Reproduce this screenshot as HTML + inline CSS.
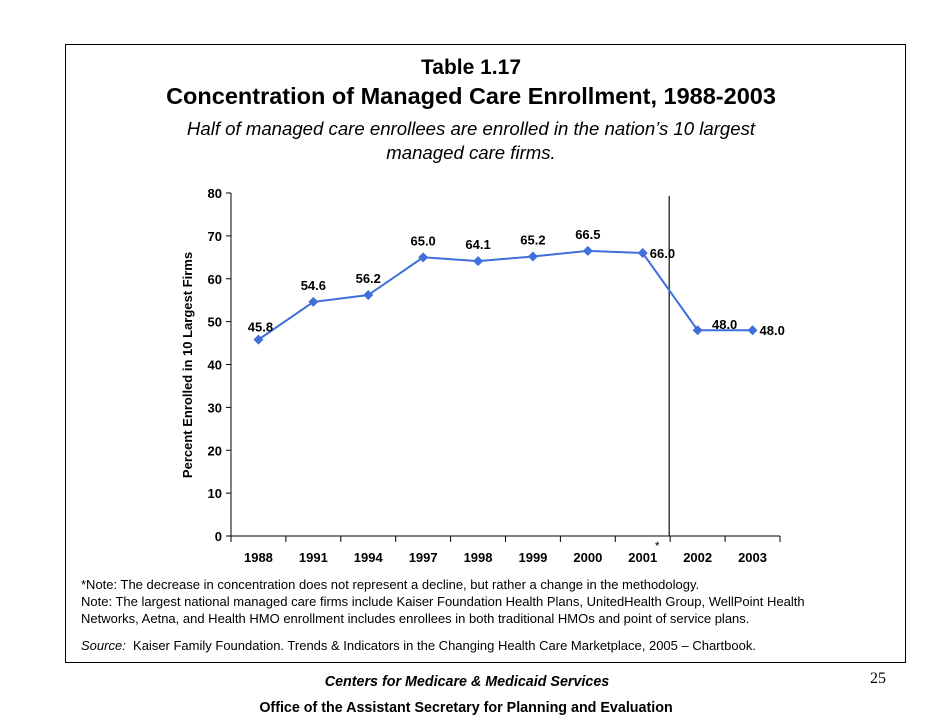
<!DOCTYPE html>
<html><head><meta charset="utf-8"><style>
body{margin:0;background:#fff;font-family:"Liberation Sans",sans-serif;}
.p{position:absolute;white-space:nowrap;}
</style></head><body>
<div style="position:relative;width:942px;height:728px;overflow:hidden">
<div style="position:absolute;left:65px;top:44px;width:839px;height:617px;border:1px solid #000"></div>
<div class="p" style="left:0;width:942px;text-align:center;top:56px;font-size:21px;font-weight:bold">Table 1.17</div>
<div class="p" style="left:0;width:942px;text-align:center;top:83px;font-size:23.5px;font-weight:bold">Concentration of Managed Care Enrollment, 1988-2003</div>
<div class="p" style="left:0;width:942px;text-align:center;top:117px;font-size:18.6px;font-style:italic;line-height:24px">Half of managed care enrollees are enrolled in the nation’s 10 largest<br>managed care firms.</div>
<svg id="chart" width="942" height="728" style="position:absolute;left:0;top:0" font-family="Liberation Sans, sans-serif"></svg>
<div class="p" style="left:81px;top:576px;font-size:13px;line-height:17px">*Note: The decrease in concentration does not represent a decline, but rather a change in the methodology.<br>Note: The largest national managed care firms include Kaiser Foundation Health Plans, UnitedHealth Group, WellPoint Health<br>Networks, Aetna, and Health HMO enrollment includes enrollees in both traditional HMOs and point of service plans.</div>
<div class="p" style="left:81px;top:638px;font-size:13px"><i>Source:</i>&nbsp; Kaiser Family Foundation. Trends &amp; Indicators in the Changing Health Care Marketplace, 2005 – Chartbook.</div>
<div class="p" style="left:0;width:934px;text-align:center;top:674px;font-size:14.3px;font-weight:bold;font-style:italic">Centers for Medicare &amp; Medicaid Services</div>
<div class="p" style="left:870px;top:670px;font-size:16px;font-family:'Liberation Serif',serif">25</div>
<div class="p" style="left:0;width:932px;text-align:center;top:700px;font-size:14.3px;font-weight:bold">Office of the Assistant Secretary for Planning and Evaluation</div>
</div>
<script>
const categories=["1988","1991","1994","1997","1998","1999","2000","2001","2002","2003"];
const values=[45.8,54.6,56.2,65.0,64.1,65.2,66.5,66.0,48.0,48.0];
const yTicks=[0,10,20,30,40,50,60,70,80];
const svg=document.getElementById('chart');
const NS='http://www.w3.org/2000/svg';
const X0=231,X1=780,Y0=536,Y1=193,YMAX=80;
const bw=(X1-X0)/categories.length;
const xs=i=>X0+bw*(i+0.5);
const ys=v=>Y0-(v/YMAX)*(Y0-Y1);
function mk(t,a,txt){const e=document.createElementNS(NS,t);for(const k in a)e.setAttribute(k,a[k]);if(txt!=null)e.textContent=txt;svg.appendChild(e);return e;}
let e;
e=mk('line',{x1:X0,y1:Y1,x2:X0,y2:Y0,stroke:'#000'});


e=mk('line',{x1:X0,y1:Y0,x2:X1,y2:Y0,stroke:'#000'});


yTicks.forEach(t=>{
 mk('line',{x1:X0-5,y1:ys(t),x2:X0,y2:ys(t),stroke:'#000'});
 e=mk('text',{x:X0-9,y:ys(t)+5,'text-anchor':'end','font-size':13,'font-weight':'bold'},t);
 
 
});
for(let i=0;i<=categories.length;i++)mk('line',{x1:X0+bw*i,y1:Y0,x2:X0+bw*i,y2:Y0+6,stroke:'#000'});
categories.forEach((c,i)=>{
 e=mk('text',{x:xs(i),y:Y0+26,'text-anchor':'middle','font-size':13,'font-weight':'bold'},c);
 
 
});
e=mk('text',{x:X0+bw*8-13,y:Y0+14,'text-anchor':'middle','font-size':12},'*');


e=mk('line',{x1:X0+bw*8-1,y1:196,x2:X0+bw*8-1,y2:Y0,stroke:'#222','stroke-width':1.3});


e=mk('text',{transform:'translate(192,365) rotate(-90)','text-anchor':'middle','font-size':13,'font-weight':'bold'},'Percent Enrolled in 10 Largest Firms');


e=mk('polyline',{points:values.map((v,i)=>xs(i)+','+ys(v)).join(' '),fill:'none',stroke:'#3f6fdc','stroke-width':2});


values.forEach((v,i)=>{
 const x=xs(i),y=ys(v);
 e=mk('polygon',{points:`${x},${y-5} ${x+5},${y} ${x},${y+5} ${x-5},${y}`,fill:'#3f6fdc'});
 
 
 let lx=x,ly=y-12,an='middle';
 if(i===0){lx=x+2;ly=y-8;}
 if(i===7||i===9){lx=x+7;ly=y+5;an='start';}
 if(i===8){lx=x+27;ly=y-1;}
 e=mk('text',{x:lx,y:ly,'text-anchor':an,'font-size':13,'font-weight':'bold'},v.toFixed(1));
 
 
});
</script>
</body></html>
